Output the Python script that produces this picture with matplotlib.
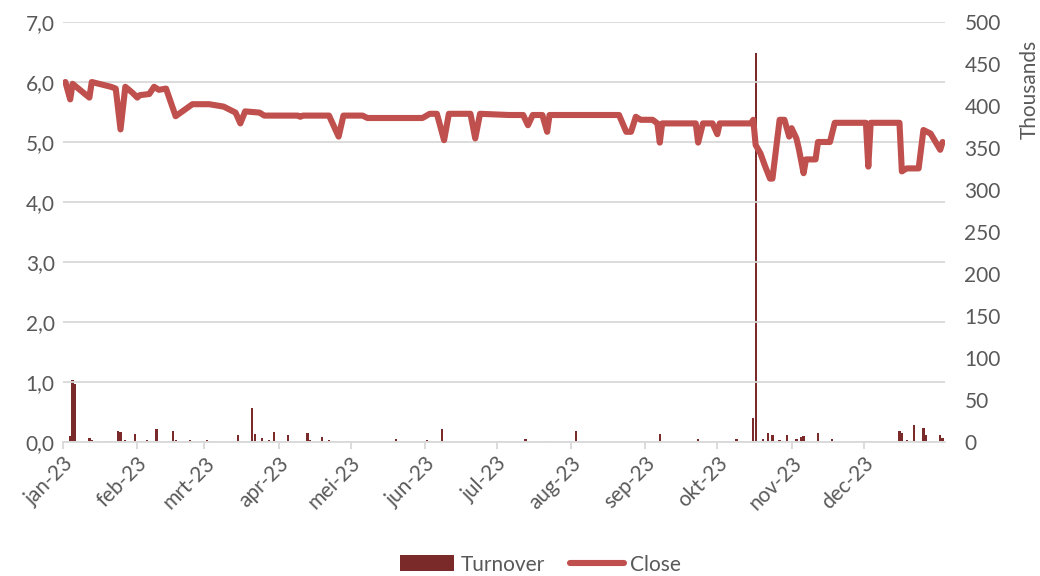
import matplotlib
matplotlib.use("Agg")
import matplotlib.pyplot as plt
import matplotlib.dates as mdates
from matplotlib.ticker import FixedLocator, FuncFormatter, MultipleLocator
from matplotlib.patches import Patch
from matplotlib.lines import Line2D
import pandas as pd

# ---- data ----
origin = "2023-01-01"
close_days = [1, 3, 4, 11, 12, 17, 20, 22, 24, 26, 29, 31, 32, 36, 38, 40, 43, 47, 54, 61,
              67, 72, 74, 76, 82, 84, 98, 99, 100, 111, 115, 117, 125, 127, 150, 153, 156, 159,
              161, 170, 172, 174, 186, 192, 194, 196, 200, 202, 203, 232, 235, 237, 239, 241,
              246, 248, 249, 250, 264, 265, 267, 271, 273, 274, 287, 288, 289, 291, 293, 295,
              296, 299, 301, 303, 304, 306, 307, 309, 310, 314, 315, 320, 322, 335, 336, 337,
              349, 350, 352, 357, 359, 362, 366, 367]
close_vals = [6.00, 5.71, 5.97, 5.74, 6.00, 5.95, 5.92, 5.89, 5.21, 5.92, 5.82, 5.74, 5.78, 5.80,
              5.92, 5.87, 5.89, 5.43, 5.63, 5.63, 5.59, 5.49, 5.31, 5.51, 5.49, 5.44, 5.44, 5.42,
              5.44, 5.44, 5.09, 5.44, 5.44, 5.40, 5.40, 5.47, 5.47, 5.03, 5.47, 5.47, 5.06, 5.47,
              5.45, 5.45, 5.28, 5.45, 5.45, 5.17, 5.45, 5.45, 5.17, 5.17, 5.42, 5.37, 5.37, 5.31,
              4.99, 5.31, 5.31, 4.99, 5.31, 5.31, 5.13, 5.31, 5.31, 5.37, 4.95, 4.81, 4.59, 4.39,
              4.39, 5.37, 5.37, 5.09, 5.23, 5.06, 4.89, 4.48, 4.71, 4.71, 5.00, 5.00, 5.32, 5.32,
              4.59, 5.32, 5.32, 4.51, 4.56, 4.56, 5.20, 5.14, 4.87, 5.00]

turnover_days = [1, 2, 3, 4, 5, 11, 12, 16, 17, 18, 19, 20, 22, 23, 24, 25, 26, 29, 30, 31, 32,
                 35, 39, 46, 47, 53, 60, 61, 71, 73, 75, 79, 80, 83, 86, 88, 94, 102, 103, 108,
                 111, 125, 139, 152, 158, 180, 193, 194, 201, 207, 214, 228, 249, 265, 276, 281,
                 288, 289, 292, 294, 296, 299, 302, 306, 308, 309, 315, 321, 335, 336, 337, 349,
                 350, 352, 355, 357, 359, 360, 364, 366, 367]
turnover_vals = [1.0, 1.0, 6.7, 74.0, 69.0, 4.8, 2.0, 0.8, 0.8, 0.8, 0.8, 0.8, 0.8, 12.7, 11.5,
                 0.8, 2.8, 1.0, 10.0, 1.0, 0.8, 2.0, 15.0, 12.7, 2.8, 2.0, 2.0, 0.8, 0.8, 8.7,
                 0.8, 40.0, 9.5, 4.8, 2.8, 11.5, 8.7, 11.0, 2.8, 5.6, 2.0, 0.5, 3.6, 2.0, 16.0,
                 0.5, 3.6, 0.8, 1.2, 0.5, 13.5, 0.5, 9.5, 4.0, 0.8, 3.2, 28.6, 463.0, 4.0, 11.0,
                 8.7, 2.0, 8.7, 3.2, 5.6, 6.7, 10.3, 3.2, 1.0, 1.0, 1.0, 12.7, 10.3, 2.4, 20.0,
                 0.8, 16.7, 8.0, 0.8, 8.7, 4.8]

month_labels = ["jan-23", "feb-23", "mrt-23", "apr-23", "mei-23", "jun-23",
                "jul-23", "aug-23", "sep-23", "okt-23", "nov-23", "dec-23"]

# ---- styling ----
plt.rcParams['font.family'] = ['Lato', 'DejaVu Sans']
txt = '#595959'
grid_c = '#D9D9D9'
line_c = '#C0504D'
bar_c = '#7B2A2A'
fs = 15

t0 = pd.Timestamp(origin)
close_dates = t0 + pd.to_timedelta(close_days, unit='D')
turn_dates = t0 + pd.to_timedelta(turnover_days, unit='D')
month_starts = pd.date_range(origin, periods=12, freq='MS')

fig = plt.figure(figsize=(10.4, 5.76), dpi=100)
ax = fig.add_axes([63/1040, 1-442/576, (945-63)/1040, (442-22)/576])
ax2 = ax.twinx()

ax2.bar(turn_dates, turnover_vals, width=0.95, color=bar_c, align='center', zorder=2)
ax.plot(close_dates, close_vals, color=line_c, lw=4.4, solid_joinstyle='round',
        solid_capstyle='round', zorder=3)

ax.set_zorder(ax2.get_zorder() + 1)
ax.patch.set_visible(False)

ax.set_xlim(t0, t0 + pd.Timedelta(days=368))
ax.set_ylim(0, 7)
ax2.set_ylim(0, 500)

ax.yaxis.set_major_locator(MultipleLocator(1))
ax.yaxis.set_major_formatter(FuncFormatter(lambda v, p: f"{v:.1f}".replace('.', ',')))
ax2.yaxis.set_major_locator(MultipleLocator(50))
ax2.yaxis.set_major_formatter(FuncFormatter(lambda v, p: f"{v:.0f}"))

ax.grid(axis='y', color=grid_c, lw=1.3)
ax.set_axisbelow(True)

ax.xaxis.set_major_locator(FixedLocator(mdates.date2num(month_starts)))
ax.set_xticklabels(month_labels, rotation=45, ha='right', rotation_mode='anchor')

for a in (ax, ax2):
    for s in ('top', 'left', 'right', 'bottom'):
        a.spines[s].set_visible(False)
ax.spines['bottom'].set_visible(True)
ax.spines['bottom'].set_color(grid_c)
ax.spines['bottom'].set_linewidth(1.3)

ax.tick_params(axis='y', length=0, labelsize=fs, labelcolor=txt, pad=6)
ax2.tick_params(axis='y', length=0, labelsize=fs, labelcolor=txt, pad=14)
ax.tick_params(axis='x', length=5, color=grid_c, width=1.3, labelsize=fs,
               labelcolor=txt, pad=3)

ax2.set_ylabel("Thousands", color=txt, fontsize=fs)
ax2.yaxis.set_label_coords(1.085, 0.84)

handles = [Patch(facecolor=bar_c, edgecolor='none'),
           Line2D([0], [0], color=line_c, lw=4.4, solid_capstyle='round')]
fig.legend(handles, ["Turnover", "Close"], loc='lower center', ncol=2, frameon=False,
           bbox_to_anchor=(0.52, -0.03), fontsize=fs, labelcolor=txt,
           handlelength=2.6, handleheight=0.8, columnspacing=1.2, handletextpad=0.3)

fig.savefig("out.png", dpi=100)
